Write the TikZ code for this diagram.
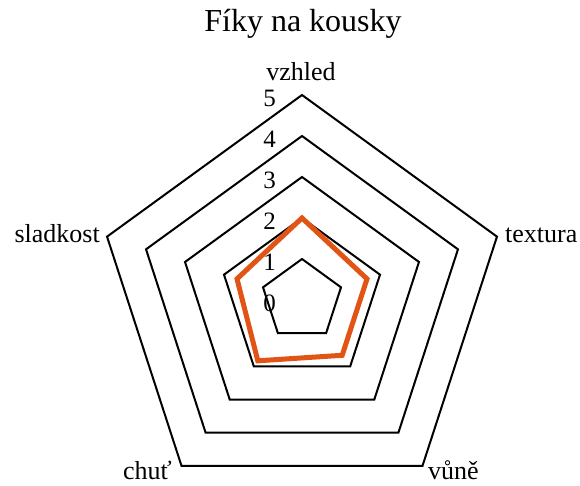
\documentclass[tikz,border=0pt]{standalone}
\usepackage{fontspec}
\setmainfont{Liberation Serif}
\usepackage{tikz}
\usetikzlibrary{calc}
\definecolor{fikorange}{RGB}{225,84,22}
\tikzset{
	ring/.style={black, line width=2pt, line join=miter},
	datapath/.style={fikorange, line width=5pt, line join=miter},
	axislabel/.style={inner sep=0pt, font=\fontsize{26}{30}\selectfont},
	scalelabel/.style={inner sep=0pt, anchor=east, font=\fontsize{25}{30}\selectfont},
	titlelabel/.style={inner sep=0pt, anchor=base, font=\fontsize{32}{38}\selectfont}
}
\def\rad{41pt}	% one step of the scale

\begin{document}
\begin{tikzpicture}[x=1pt,y=1pt]		%radar chart
	\useasboundingbox (0,0) rectangle (580,486);
	
	%title
	\node[titlelabel] (title) at (303,454) {Fíky na kousky};
	
	\begin{scope}[shift={(302,186)}]
	%rings 1 to 5
	\foreach \k in {1,...,5}
		\draw[ring] (90:\k*\rad) -- (18:\k*\rad) -- (-54:\k*\rad) -- (-126:\k*\rad) -- (162:\k*\rad) -- cycle;
	
	%data
	\draw[datapath] (90:2*\rad) -- (18:1.667*\rad) -- (-54:1.667*\rad) -- (-126:1.833*\rad) -- (162:1.667*\rad) -- cycle;
	\end{scope}
	
	%scale
	\foreach \k in {0,...,5}
		\node[scalelabel] (s\k) at (276,{183+41*\k}) {\k};
	
	%axis labels
	\node[axislabel, anchor=base] (vzhled) at (301,405) {vzhled};
	\node[axislabel, anchor=base west] (textura) at (505,243) {textura};
	\node[axislabel, anchor=base west] (vune) at (428,6) {vůně};
	\node[axislabel, anchor=base east] (chut) at (172,6) {chuť};
	\node[axislabel, anchor=base east] (sladkost) at (100,243) {sladkost};
\end{tikzpicture}
\end{document}
